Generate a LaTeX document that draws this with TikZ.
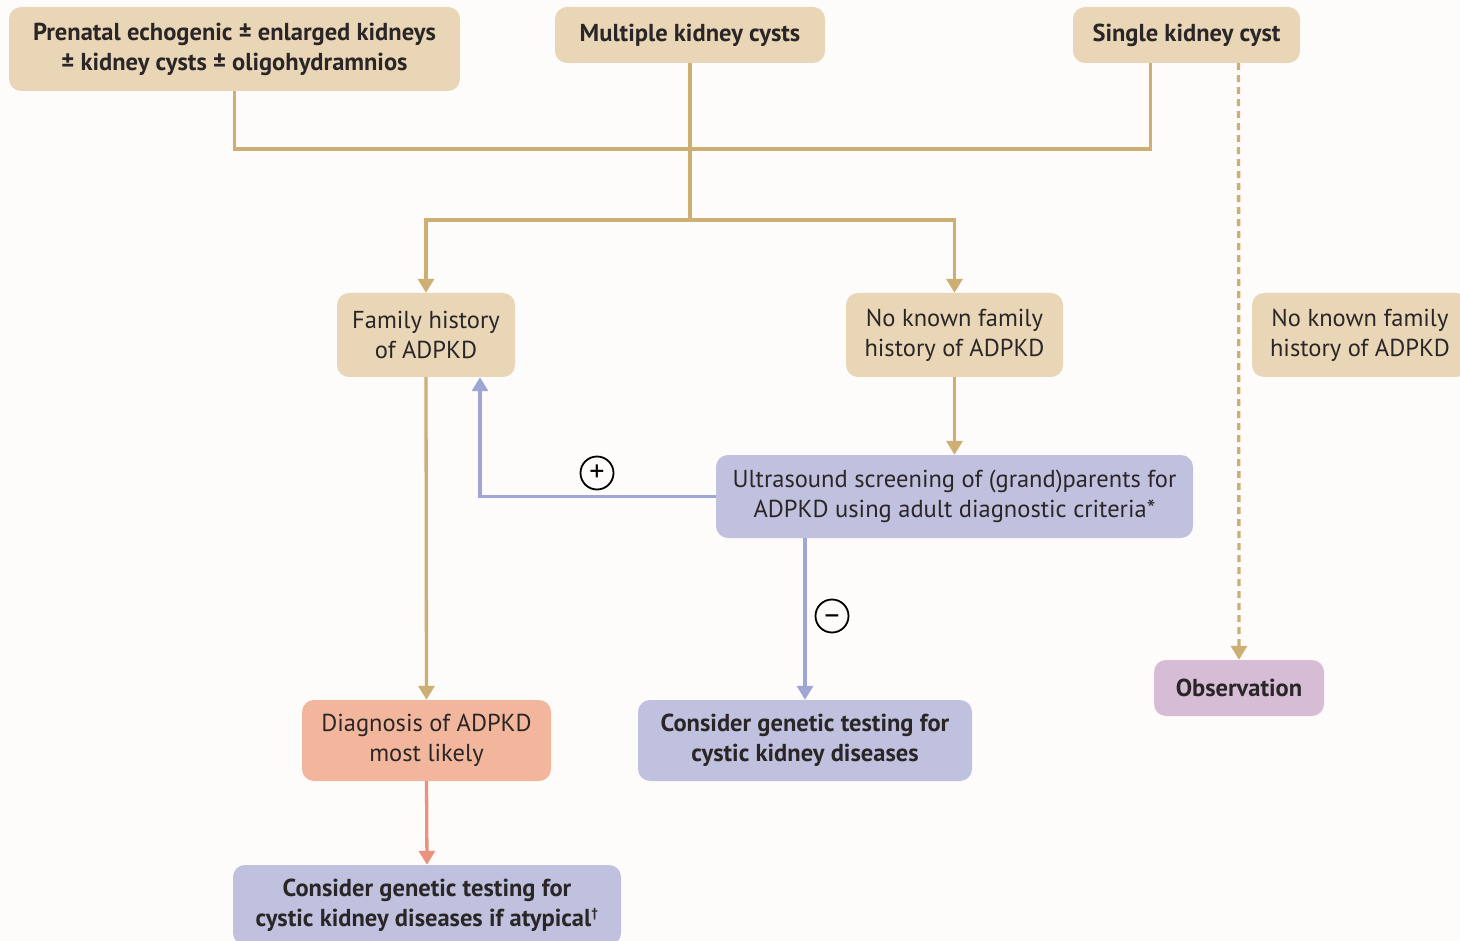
\documentclass[tikz,border=0pt]{standalone}
\usepackage{fontspec}
\setmainfont{PT Sans}
\usetikzlibrary{arrows.meta}
\definecolor{tanbox}{HTML}{E9D6B6}
\definecolor{tanline}{HTML}{CDAF74}
\definecolor{bluebox}{HTML}{BFC1DE}
\definecolor{blueline}{HTML}{9DA6D4}
\definecolor{salbox}{HTML}{F2B69C}
\definecolor{salline}{HTML}{EA937C}
\definecolor{obsbox}{HTML}{D6BCD5}
\definecolor{txt}{HTML}{2A2627}
\definecolor{bg}{HTML}{FDFCFB}
\tikzset{
  box/.style={rounded corners=12pt, align=center, inner sep=0pt, text=txt,
    font=\fontsize{24.5}{30}\selectfont},
  bbox/.style={box, font=\fontsize{24.5}{30}\selectfont\bfseries},
  conn/.style={line width=3.3pt, -{Triangle[width=16pt,length=14pt]}},
  plain/.style={line width=3.3pt},
  sign/.style={circle, draw=black, line width=1.8pt, minimum size=33pt, inner sep=0pt,
    font=\fontsize{30}{30}\selectfont}
}
\begin{document}
\begin{tikzpicture}[x=1pt,y=-1pt]
\useasboundingbox (0,0) rectangle (1460,941);
\clip (0,0) rectangle (1460,941);
\fill[bg] (0,0) rectangle (1460,941);
% nodes
\node[bbox, fill=tanbox, minimum width=451pt, minimum height=84pt] (pren) at (234.5,49) {Prenatal echogenic ± enlarged kidneys\\± kidney cysts ± oligohydramnios};
\node[bbox, fill=tanbox, minimum width=270pt, minimum height=56pt] (mult) at (690,35) {Multiple kidney cysts};
\node[bbox, fill=tanbox, minimum width=227pt, minimum height=56pt] (single) at (1186.5,35) {Single kidney cyst};
\node[box, fill=tanbox, minimum width=178pt, minimum height=84pt] (fam) at (426,335) {Family history\\of ADPKD};
\node[box, fill=tanbox, minimum width=217pt, minimum height=84pt] (nofam) at (954.5,335) {No known family\\history of ADPKD};
\node[box, fill=tanbox, minimum width=216pt, minimum height=84pt] (nofamr) at (1360,335) {No known family\\history of ADPKD};
\node[box, fill=bluebox, minimum width=477pt, minimum height=83pt] (us) at (954.5,496.5) {Ultrasound screening of (grand)parents for\\ADPKD using adult diagnostic criteria*};
\node[box, fill=salbox, minimum width=249pt, minimum height=81pt] (diag) at (426.5,740.5) {Diagnosis of ADPKD\\most likely};
\node[bbox, fill=bluebox, minimum width=334pt, minimum height=81pt] (cons) at (805,740.5) {Consider genetic testing for\\cystic kidney diseases};
\node[bbox, fill=obsbox, minimum width=170pt, minimum height=56pt] (obs) at (1239,688) {Observation};
\node[bbox, fill=bluebox, minimum width=388pt, minimum height=80pt] (cons2) at (427,905) {Consider genetic testing for\\cystic kidney diseases if atypical\textsuperscript{\fontsize{13}{13}\selectfont\textdagger}};
% junctions
\coordinate (jtop) at (mult.south |- 0,149);
\coordinate (jmid) at (mult.south |- 0,220);
% tan connectors
\draw[plain, tanline] (pren.south) |- (jtop) -| ([xshift=-36pt]single.south);
\draw[plain, tanline] (mult.south) -- (jmid);
\draw[conn, tanline] (jmid) -| (fam.north);
\draw[conn, tanline] (jmid) -| (nofam.north);
\draw[conn, tanline, dash pattern=on 7pt off 5pt] ([xshift=52pt]single.south) -- (obs.north);
\draw[conn, tanline] (fam.south) -- (diag.north);
\draw[conn, tanline] (nofam.south) -- (us.north);
% blue connectors
\draw[conn, blueline] (us.west) -| ([xshift=54pt]fam.south);
\draw[conn, blueline] (cons.north |- us.south) -- (cons.north);
% salmon
\draw[conn, salline] (diag.south) -- (cons2.north);
% signs
\node[sign] (plus) at (597,473) {+};
\node[sign, text height=0pt, text depth=0pt] (minus) at (832,616) {\raisebox{-8pt}{–}};
\end{tikzpicture}
\end{document}
